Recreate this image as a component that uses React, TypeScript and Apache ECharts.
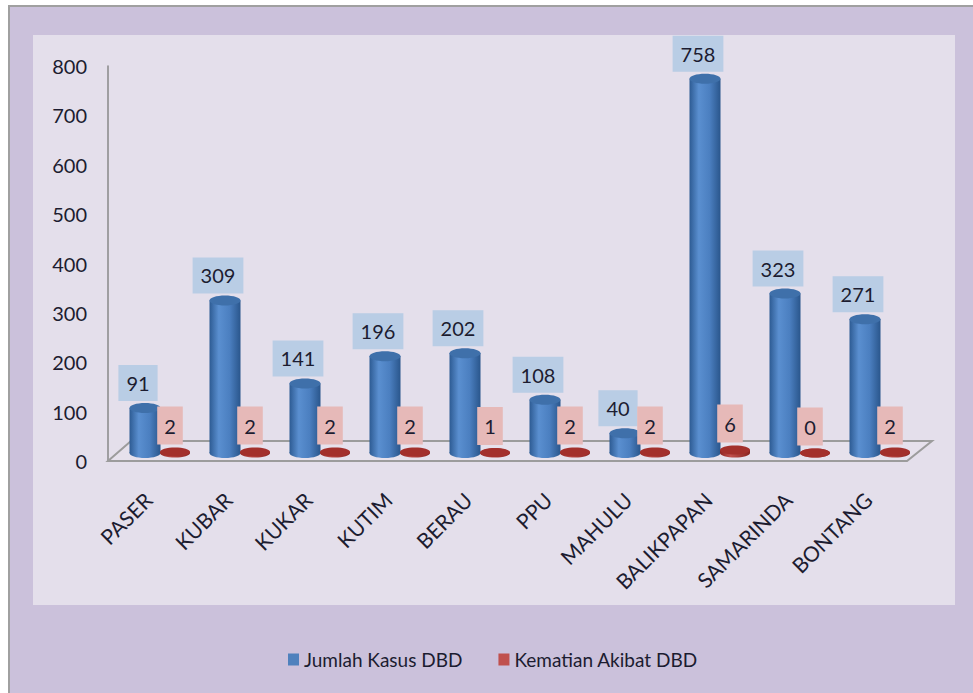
import React, { useEffect, useRef } from "react";
import * as echarts from "echarts";

const categories = ["PASER", "KUBAR", "KUKAR", "KUTIM", "BERAU", "PPU", "MAHULU", "BALIKPAPAN", "SAMARINDA", "BONTANG"];
const kasusDBD = [91, 309, 141, 196, 202, 108, 40, 758, 323, 271];
const kematianDBD = [2, 2, 2, 2, 1, 2, 2, 6, 0, 2];
const yTicks = [0, 100, 200, 300, 400, 500, 600, 700, 800];
const seriesNames = ["Jumlah Kasus DBD", "Kematian Akibat DBD"];

const FONT = "Lato, 'Open Sans', sans-serif";
const TXT = "#1c1c30";

export default function App() {
  const ref = useRef<HTMLDivElement>(null);
  useEffect(() => {
    if (!ref.current) return;
    const chart = echarts.init(ref.current, undefined, { renderer: "svg" });
    const blueGrad = new echarts.graphic.LinearGradient(0, 0, 1, 0, [
      { offset: 0, color: "#2d5b93" },
      { offset: 0.3, color: "#5a8fd0" },
      { offset: 0.65, color: "#4b7fc0" },
      { offset: 1, color: "#2a568c" },
    ]);
    const redGrad = new echarts.graphic.LinearGradient(0, 0, 1, 0, [
      { offset: 0, color: "#8f2522" },
      { offset: 0.35, color: "#c0504d" },
      { offset: 1, color: "#8a2420" },
    ]);
    const option: any = {
      animation: false,
      backgroundColor: "#ffffff",
      graphic: [
        { type: "rect", z: 0, shape: { x: 9, y: 6, width: 980, height: 700 }, style: { fill: "#cbc1db", stroke: "#a0a0a0", lineWidth: 2 } },
        { type: "rect", z: 0, shape: { x: 33, y: 35, width: 922, height: 570 }, style: { fill: "#e4dfeb" } },
        {
          type: "polygon", z: 1,
          shape: { points: [[108, 461], [907, 461], [932, 441], [131, 441]] },
          style: { fill: "#e6e1ec", stroke: "#9c9c9c", lineWidth: 2 },
        },
      ],
      grid: { left: 108, top: 66, width: 800, height: 395, containLabel: false },
      legend: {
        data: seriesNames,
        left: 283,
        top: 645,
        icon: "rect",
        itemWidth: 11,
        itemHeight: 12,
        itemGap: 36,
        textStyle: { fontSize: 19, color: TXT, fontFamily: FONT },
      },
      xAxis: {
        type: "category",
        data: categories,
        axisLine: { show: false },
        axisTick: { show: false },
        axisLabel: { rotate: 45, margin: 35, fontSize: 21, color: TXT, fontFamily: FONT, interval: 0 },
      },
      yAxis: {
        type: "value",
        min: 0,
        max: 800,
        interval: 100,
        axisLine: { show: true, lineStyle: { color: "#888888", width: 1.5 } },
        axisTick: { show: false },
        splitLine: { show: false },
        axisLabel: {
          margin: 21, fontSize: 20, color: TXT, fontFamily: FONT,
          formatter: (v: number) => (yTicks.includes(v) ? String(v) : ""),
        },
      },
      series: [
        {
          name: seriesNames[0],
          type: "custom",
          itemStyle: { color: "#4f81bd" },
          data: kasusDBD.map((v, i) => [i, v]),
          renderItem: (_p: any, api: any) => {
            const i = api.value(0);
            const v = api.value(1);
            const base = api.coord([i, 0]);
            const top = api.coord([i, v]);
            const cx = base[0] - 3;
            const by = base[1] - 8;
            const ty = top[1] - 8;
            const w = 31;
            const eh = 10;
            return {
              type: "group",
              children: [
                { type: "ellipse", shape: { cx, cy: by, rx: w / 2, ry: eh / 2 }, style: { fill: blueGrad } },
                { type: "rect", shape: { x: cx - w / 2, y: ty, width: w, height: by - ty }, style: { fill: blueGrad } },
                { type: "ellipse", shape: { cx, cy: ty, rx: w / 2, ry: eh / 2 }, style: { fill: "#3f70aa" } },
                {
                  type: "text",
                  z2: 10,
                  style: {
                    text: String(v), x: cx - 7, y: ty - eh / 2 - 2, align: "center", verticalAlign: "bottom",
                    fill: TXT, font: `20px ${FONT}`, lineHeight: 24, backgroundColor: "#b9cde5", padding: [6, 8],
                  },
                },
              ],
            };
          },
        },
        {
          name: seriesNames[1],
          type: "custom",
          itemStyle: { color: "#c0504d" },
          data: kematianDBD.map((v, i) => [i, v]),
          renderItem: (_p: any, api: any) => {
            const i = api.value(0);
            const v = api.value(1);
            const base = api.coord([i, 0]);
            const top = api.coord([i, v]);
            const cx = base[0] + 27;
            const by = base[1] - 8;
            const ty = top[1] - 8;
            const w = 30;
            const eh = 9;
            return {
              type: "group",
              children: [
                { type: "ellipse", shape: { cx, cy: by, rx: w / 2, ry: eh / 2 }, style: { fill: redGrad } },
                { type: "rect", shape: { x: cx - w / 2, y: ty, width: w, height: Math.max(by - ty, 0) }, style: { fill: redGrad } },
                { type: "ellipse", shape: { cx, cy: ty, rx: w / 2, ry: eh / 2 }, style: { fill: "#a3302c" } },
                {
                  type: "text",
                  z2: 10,
                  style: {
                    text: String(v), x: cx - 5, y: ty - eh / 2 - 3, align: "center", verticalAlign: "bottom",
                    fill: TXT, font: `20px ${FONT}`, lineHeight: 24, backgroundColor: "#e6b9b8", padding: [7, 7],
                  },
                },
              ],
            };
          },
        },
      ],
    };
    chart.setOption(option);
    return () => chart.dispose();
  }, []);
  return <div ref={ref} style={{ position: "fixed", left: 0, top: 0, width: 973, height: 693 }} />;
}
